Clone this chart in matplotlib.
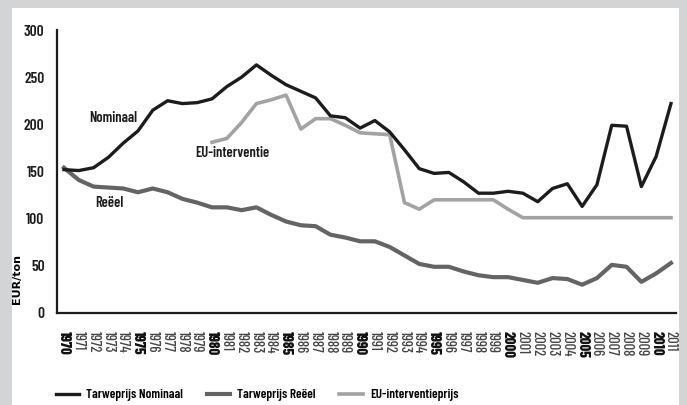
import numpy as np
import matplotlib
matplotlib.use("Agg")
import matplotlib.pyplot as plt
from matplotlib.patches import Rectangle

# ---------------------------------------------------------------------------
# Data (EUR/ton)
# ---------------------------------------------------------------------------
YEARS = list(range(1970, 2012))

NOMINAAL = [152, 151, 154, 165, 180, 193, 215, 225, 222, 223,
            227, 240, 250, 263, 252, 242, 235, 228, 209, 207,
            196, 204, 192, 173, 153, 148, 149, 139, 127, 127,
            129, 127, 118, 132, 137, 113, 136, 199, 198, 134,
            166, 222]

REEEL = [154, 141, 134, 133, 132, 128, 132, 128, 121, 117,
         112, 112, 109, 112, 104, 97, 93, 92, 83, 80,
         76, 76, 70, 61, 52, 49, 49, 44, 40, 38,
         38, 35, 32, 37, 36, 30, 37, 51, 49, 33,
         42, 53]

EU_YEARS = list(range(1980, 2012))
EU_INTERVENTIE = [181, 185, 202, 222, 226, 231, 195, 206, 206, 199,
                  191, 190, 189, 117, 110, 120, 120, 120, 120, 120,
                  110, 101, 101, 101, 101, 101, 101, 101, 101, 101,
                  101, 101]

BOLD_YEARS = [1970, 1975, 1980, 1985, 1990, 1995, 2000, 2005, 2010]
Y_TICKS = [0, 50, 100, 150, 200, 250, 300]

NARROW = ["Barlow Condensed", "Archivo Narrow", "DejaVu Sans"]

# ---------------------------------------------------------------------------
# Figure
# ---------------------------------------------------------------------------
W, H = 687, 405
fig = plt.figure(figsize=(W / 100, H / 100), dpi=100)
fig.patch.set_facecolor("#d3d4d6")
fig.patches.append(Rectangle((12 / W, 0), (679 - 12) / W, 1 - 8 / H,
                             transform=fig.transFigure, facecolor="white",
                             edgecolor="none", zorder=-10))

ax = fig.add_axes([57 / W, 1 - 313 / H, (676 - 57) / W, (313 - 30) / H])
ax.set_facecolor("none")

ax.plot(YEARS, NOMINAAL, color="#1c1c1c", linewidth=2.4,
        solid_joinstyle="round", label="Tarweprijs Nominaal", zorder=4)
ax.plot(YEARS, REEEL, color="#646464", linewidth=3.0,
        solid_joinstyle="round", label="Tarweprijs Reëel", zorder=3)
ax.plot(EU_YEARS, EU_INTERVENTIE, color="#a3a3a3", linewidth=2.6,
        solid_joinstyle="round", label="EU-interventieprijs", zorder=2)

ax.set_xlim(1969.53, 2011.34)
ax.set_ylim(0, 300)

for side in ("top", "right"):
    ax.spines[side].set_visible(False)
for side in ("left", "bottom"):
    ax.spines[side].set_linewidth(1.6)
    ax.spines[side].set_color("#1c1c1c")

ax.set_yticks(Y_TICKS)
ax.set_yticklabels([str(v) for v in Y_TICKS], family=NARROW,
                   fontweight=600, fontsize=11, color="#1c1c1c")
ax.set_xticks(YEARS)
ax.set_xticklabels([str(y) for y in YEARS], rotation=-90, family=NARROW,
                   fontweight=500, fontsize=10.5, color="#444444")
for lbl, yr in zip(ax.get_xticklabels(), YEARS):
    if yr in BOLD_YEARS:
        lbl.set_fontweight(800)
        lbl.set_color("#111111")
ax.tick_params(axis="both", length=0)
ax.tick_params(axis="y", pad=9)
ax.tick_params(axis="x", pad=13)

ax.set_ylabel("EUR/ton", fontsize=8, fontweight="bold")
ax.yaxis.set_label_coords(-0.056, 0.12)

# inline series labels
ax.text(1973.3, 207, "Nominaal", family=NARROW, fontweight=600,
        fontsize=10.5, ha="center", va="center", color="#1c1c1c")
ax.text(1981.4, 170, "EU-interventie", family=NARROW, fontweight=600,
        fontsize=10.5, ha="center", va="center", color="#1c1c1c")
ax.text(1973.1, 117, "Reëel", family=NARROW, fontweight=600,
        fontsize=10.5, ha="center", va="center", color="#1c1c1c")

fig.legend(loc="center left", bbox_to_anchor=(44 / W, 1 - 395 / H),
           ncol=3, frameon=False, handlelength=1.75, handletextpad=0.55,
           columnspacing=1.8, prop={"family": NARROW, "weight": 600,
                                    "size": 9.5})

fig.savefig("out.png", dpi=100, facecolor=fig.get_facecolor())
